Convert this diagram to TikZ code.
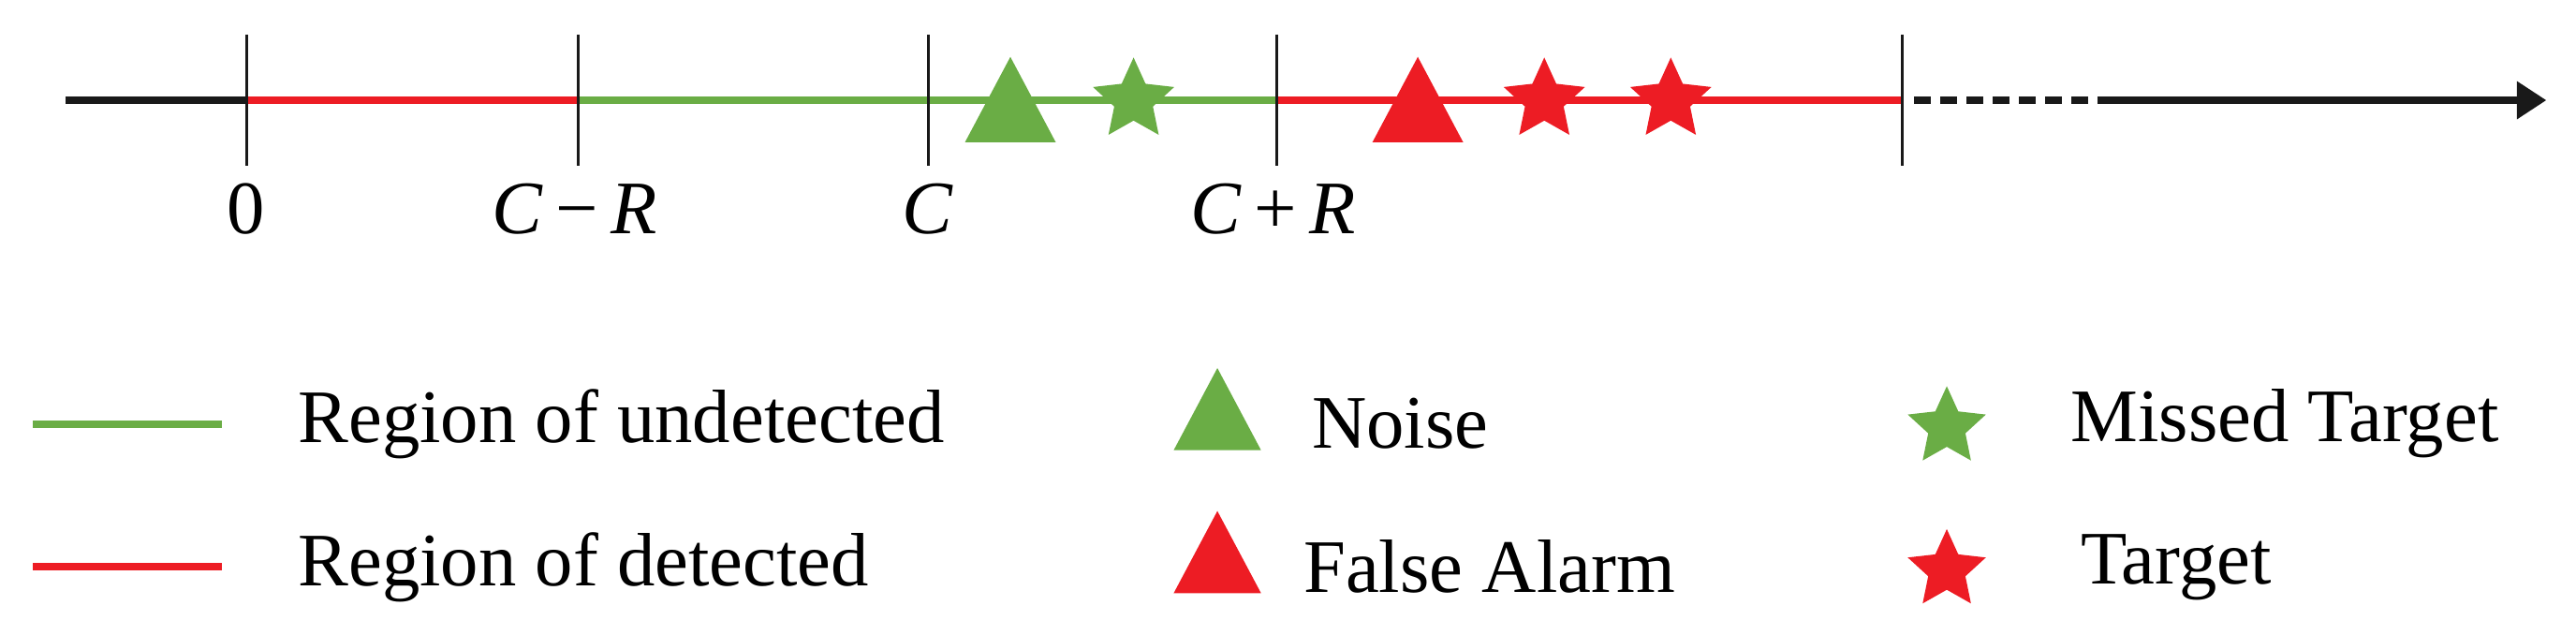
\documentclass[tikz,border=0pt]{standalone}
\usepackage{fontspec}
\setmainfont{Liberation Serif}
\usetikzlibrary{shapes.geometric,arrows.meta}
\definecolor{gr}{RGB}{106,173,69}
\definecolor{rd}{RGB}{237,28,36}
\begin{document}
\begin{tikzpicture}[x=1pt,y=-1pt,
  seg/.style={line width=4.5pt},
  tick/.style={line width=1.6pt,black!90},
  tri/.style={isosceles triangle,isosceles triangle apex angle=56,shape border rotate=90,minimum height=52pt,inner sep=0pt,draw=none},
  st/.style={star,star points=5,star point ratio=2.1,minimum size=52pt,inner sep=0pt,draw=none},
  lab/.style={font=\fontsize{46}{52}\selectfont},
  leg/.style={font=\fontsize{46}{52}\selectfont,anchor=west}]
\useasboundingbox (0,0) rectangle (1568,386);
\coordinate (a0) at (40,61);
\foreach \n/\x in {t0/150,t1/352,t2/565,t3/777,t4/1158}{
  \coordinate (\n) at (\x,61);
  \coordinate (\n u) at (\x,21);
  \coordinate (\n d) at (\x,101);
}
\coordinate (d1) at (1165,61);
\coordinate (d2) at (1282,61);
\coordinate (aE) at (1550,61);
\draw[seg,black!90] (a0) -- (t0);
\draw[seg,rd] (t0) -- (t1);
\draw[seg,gr] (t1) -- (t3);
\draw[seg,rd] (t3) -- (t4);
\draw[seg,black!90,dash pattern=on 10pt off 6pt] (d1) -- (d2);
\draw[seg,black!90,-{Triangle[length=18pt,width=22pt]}] (d2) -- (aE);
\foreach \n in {t0,t1,t2,t3,t4}{\draw[tick] (\n u) -- (\n d);}
\node[tri,fill=gr] (n1) at (615,70) {};
\node[st,fill=gr] (m1) at (690,61) {};
\node[tri,fill=rd] (f1) at (863,70) {};
\node[st,fill=rd] (s1) at (940,61) {};
\node[st,fill=rd] (s2) at (1017,61) {};
\node[lab] (l0) at (150,127) {0};
\node[lab] (l1) at (350,127) {\textit{C}\,−\,\textit{R}};
\node[lab] (l2) at (565,127) {\textit{C}};
\node[lab] (l3) at (775,127) {\textit{C}\,+\,\textit{R}};
% legend
\coordinate (g1) at (20,258); \coordinate (g2) at (135,258);
\coordinate (r1) at (20,345); \coordinate (r2) at (135,345);
\draw[seg,gr] (g1) -- (g2);
\draw[seg,rd] (r1) -- (r2);
\node[leg] (tg) at (178,258) {Region of undetected};
\node[leg] (tr) at (178,345) {Region of detected};
\node[tri,fill=gr,minimum height=50pt] (ln) at (741,258) {};
\node[leg] (tn) at (795,258) {Noise};
\node[tri,fill=rd,minimum height=50pt] (lf) at (741,345) {};
\node[leg] (tf) at (790,345) {False Alarm};
\node[st,fill=gr,minimum size=50pt] (lm) at (1185,260) {};
\node[leg] (tm) at (1257,258) {Missed Target};
\node[st,fill=rd,minimum size=50pt] (lt) at (1185,347) {};
\node[leg] (tt) at (1263,345) {Target};
\end{tikzpicture}
\end{document}
